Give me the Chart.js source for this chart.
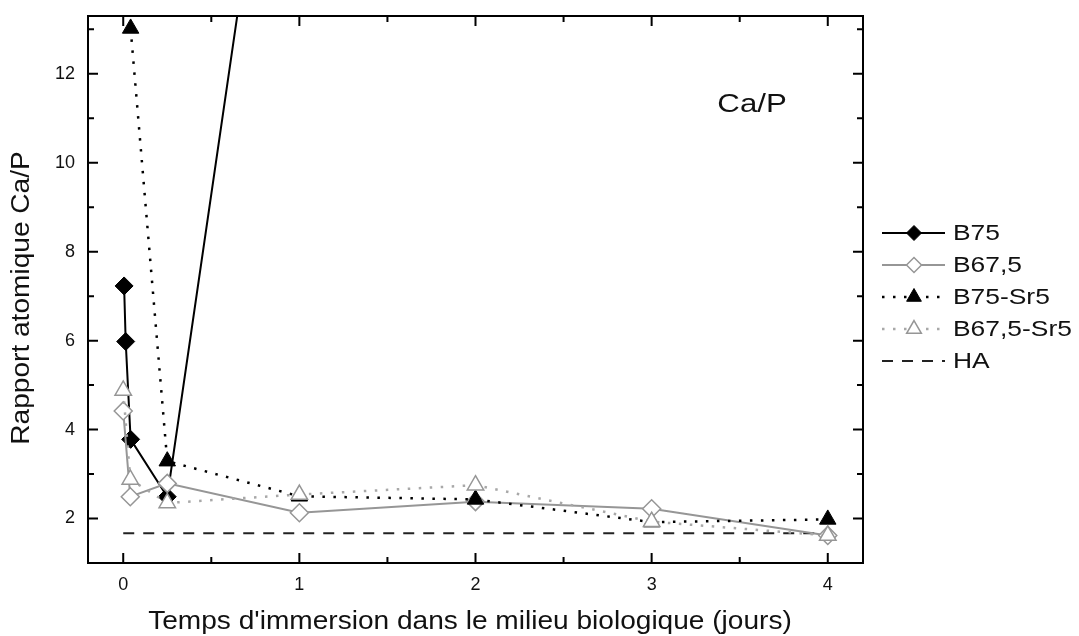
<!DOCTYPE html>
<html>
<head>
<meta charset="utf-8">
<script src="https://cdn.jsdelivr.net/npm/chart.js@4"></script>
<style>
  html, body { margin: 0; padding: 0; background: #fff; }
  canvas { display: block; }
</style>
</head>
<body>
<canvas id="ca-p-chart" width="1079" height="636"></canvas>
<script>
// temps (jours) and Ca/P for each sample
const b75Days = [0.005, 0.014, 0.042, 0.25, 1];
const b75Ratio = [7.23, 5.98, 3.78, 2.49, 22.9];
const b675Days = [0, 0.04, 0.25, 1, 2, 3, 4];
const b675Ratio = [4.42, 2.49, 2.79, 2.13, 2.38, 2.22, 1.62];
const b75SrDays = [0.042, 0.25, 1, 2, 3, 4];
const b75SrRatio = [13.02, 3.29, 2.5, 2.43, 1.92, 1.98];
const b675SrDays = [0, 0.04, 0.25, 1, 2, 3, 4];
const b675SrRatio = [4.88, 2.88, 2.35, 2.54, 2.75, 1.93, 1.62];
const haDays = [0, 4];
const haRatio = [1.67, 1.67];

const xTicks = [0, 1, 2, 3, 4];
const xMinorTicks = [0.5, 1.5, 2.5, 3.5];
const yTicks = [2, 4, 6, 8, 10, 12];
const yMinorTicks = [3, 5, 7, 9, 11, 13];

const xTitle = "Temps d'immersion dans le milieu biologique (jours)";
const yTitle = 'Rapport atomique Ca/P';

const FONT = "'Liberation Sans', Arial, sans-serif";
const GREY = '#969696';

const pts = (xs, ys) => xs.map((x, i) => ({ x: x, y: ys[i] }));

// text is a bit wide in the original, so stretch horizontally
function wideText(ctx, text, x, y, sx, rot, align) {
  ctx.save();
  ctx.translate(x, y);
  if (rot) ctx.rotate(rot);
  ctx.scale(sx, 1);
  ctx.textAlign = align || 'center';
  ctx.textBaseline = 'middle';
  ctx.fillText(text, 0, 0);
  ctx.restore();
}

// box + inward ticks on all four sides, titles
const framePlugin = {
  id: 'frame',
  afterDatasetsDraw(chart) {
    const { ctx, chartArea: a, scales: { x, y } } = chart;
    ctx.save();
    ctx.strokeStyle = '#000';
    ctx.lineWidth = 2;
    ctx.setLineDash([]);
    ctx.strokeRect(a.left, a.top, a.right - a.left, a.bottom - a.top);
    const tickX = (v, len) => {
      const px = x.getPixelForValue(v);
      ctx.moveTo(px, a.bottom); ctx.lineTo(px, a.bottom - len);
      ctx.moveTo(px, a.top); ctx.lineTo(px, a.top + len);
    };
    const tickY = (v, len) => {
      const py = y.getPixelForValue(v);
      ctx.moveTo(a.left, py); ctx.lineTo(a.left + len, py);
      ctx.moveTo(a.right, py); ctx.lineTo(a.right - len, py);
    };
    ctx.beginPath();
    xTicks.forEach(v => tickX(v, 10));
    xMinorTicks.forEach(v => tickX(v, 6));
    yTicks.forEach(v => tickY(v, 10));
    yMinorTicks.forEach(v => tickY(v, 6));
    ctx.stroke();

    ctx.fillStyle = '#111';
    ctx.font = '26px ' + FONT;
    wideText(ctx, 'Ca/P', x.getPixelForValue(3.57), y.getPixelForValue(11.3), 1.2);
    wideText(ctx, xTitle, 470, 622, 1.08);
    wideText(ctx, yTitle, 22, 298, 1.08, -Math.PI / 2);
    ctx.restore();
  }
};

// legend with line sample + marker
const legendPlugin = {
  id: 'lineLegend',
  afterDraw(chart) {
    const ctx = chart.ctx;
    ctx.save();
    chart.data.datasets.forEach((ds, row) => {
      const yy = 233 + row * 32;
      ctx.beginPath();
      ctx.strokeStyle = ds.borderColor;
      ctx.lineWidth = ds.borderWidth;
      ctx.setLineDash(ds.borderDash || []);
      ctx.moveTo(882, yy);
      ctx.lineTo(945, yy);
      ctx.stroke();
      ctx.setLineDash([]);
      if (ds.pointRadius > 0) {
        ctx.fillStyle = ds.pointBackgroundColor;
        ctx.strokeStyle = ds.pointBorderColor;
        ctx.lineWidth = ds.pointBorderWidth;
        Chart.helpers.drawPoint(ctx, {
          pointStyle: ds.pointStyle,
          radius: ds.pointStyle === 'triangle' ? 8.5 : 7.5,
          borderWidth: ds.pointBorderWidth,
          rotation: 0
        }, 914, yy);
      }
      ctx.fillStyle = '#111';
      ctx.font = '22px ' + FONT;
      wideText(ctx, ds.label, 953, yy + 1, 1.2, 0, 'left');
    });
    ctx.restore();
  }
};

new Chart(document.getElementById('ca-p-chart').getContext('2d'), {
  type: 'scatter',
  data: {
    datasets: [
      {
        label: 'B75',
        data: pts(b75Days, b75Ratio),
        showLine: true,
        borderColor: '#000',
        borderWidth: 2,
        pointStyle: 'rectRot',
        pointRadius: 9,
        pointBackgroundColor: '#000',
        pointBorderColor: '#000',
        pointBorderWidth: 1,
        order: 4
      },
      {
        label: 'B67,5',
        data: pts(b675Days, b675Ratio),
        showLine: true,
        borderColor: GREY,
        borderWidth: 2,
        pointStyle: 'rectRot',
        pointRadius: 9,
        pointBackgroundColor: '#fff',
        pointBorderColor: GREY,
        pointBorderWidth: 1.5,
        order: 3
      },
      {
        label: 'B75-Sr5',
        data: pts(b75SrDays, b75SrRatio),
        showLine: true,
        borderColor: '#000',
        borderWidth: 2.5,
        borderDash: [2.5, 8.5],
        pointStyle: 'triangle',
        pointRadius: 9.5,
        pointBackgroundColor: '#000',
        pointBorderColor: '#000',
        pointBorderWidth: 1,
        order: 2
      },
      {
        label: 'B67,5-Sr5',
        data: pts(b675SrDays, b675SrRatio),
        showLine: true,
        borderColor: '#a8a8a8',
        borderWidth: 2.5,
        borderDash: [2.5, 8.5],
        pointStyle: 'triangle',
        pointRadius: 9.5,
        pointBackgroundColor: '#fff',
        pointBorderColor: GREY,
        pointBorderWidth: 1.5,
        order: 1
      },
      {
        label: 'HA',
        data: pts(haDays, haRatio),
        showLine: true,
        borderColor: '#222',
        borderWidth: 2,
        borderDash: [11, 9],
        pointRadius: 0,
        order: 5
      }
    ]
  },
  options: {
    responsive: false,
    animation: false,
    devicePixelRatio: 1,
    layout: { padding: { top: 16, right: 216, left: 0, bottom: 0 } },
    plugins: {
      legend: { display: false },
      tooltip: { enabled: false }
    },
    scales: {
      x: {
        type: 'linear',
        min: -0.2,
        max: 4.2,
        afterBuildTicks: s => { s.ticks = xTicks.map(v => ({ value: v })); },
        afterFit: s => { s.height = 73; s.paddingLeft = 0; s.paddingRight = 0; },
        grid: { display: false, drawTicks: false },
        border: { display: false },
        ticks: { padding: 11, color: '#111', font: { family: FONT, size: 18 } }
      },
      y: {
        type: 'linear',
        min: 1,
        max: 13.3,
        afterBuildTicks: s => { s.ticks = yTicks.map(v => ({ value: v })); },
        afterFit: s => { s.width = 88; s.paddingTop = 0; s.paddingBottom = 0; },
        grid: { display: false, drawTicks: false },
        border: { display: false },
        ticks: { padding: 13, color: '#111', font: { family: FONT, size: 18 } }
      }
    }
  },
  plugins: [framePlugin, legendPlugin]
});
</script>
</body>
</html>
